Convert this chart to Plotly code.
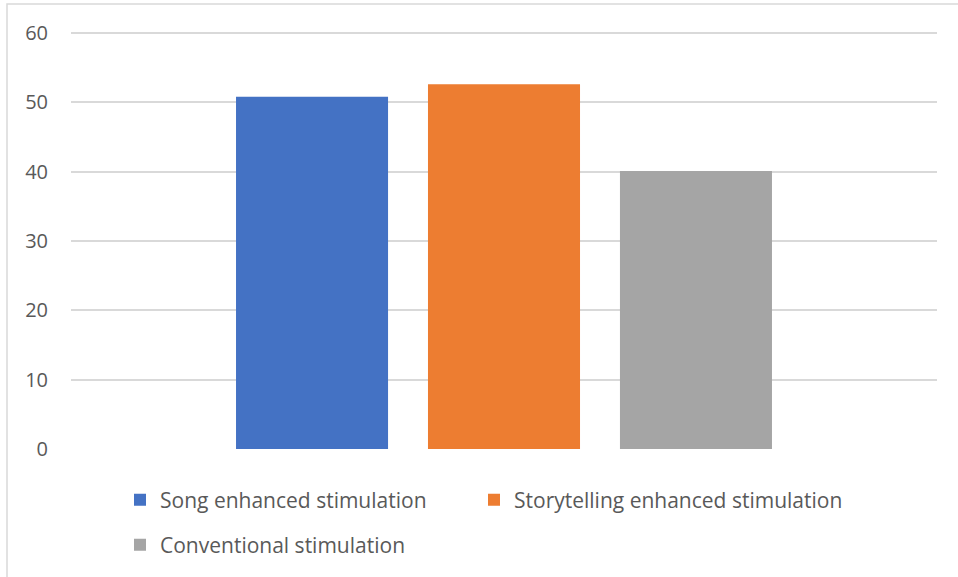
import plotly.graph_objects as go

categories = ["Stimulation"]
series_names = ["Song enhanced stimulation", "Storytelling enhanced stimulation", "Conventional stimulation"]
song_values = [50.8]
story_values = [52.6]
conventional_values = [40.1]
colors = ["#4472C4", "#ED7D31", "#A5A5A5"]
y_ticks = [0, 10, 20, 30, 40, 50, 60]

W, H = 958, 577
L, R, T, B = 71, 21, 26, 128
pw = W - L - R
ph = H - T - B

def px_x(x):
    return (x - L) / pw

def px_y(y):
    return (H - B - y) / ph

FONT = "Open Sans"
TXT = "#595959"

fig = go.Figure()
vals = [song_values, story_values, conventional_values]
legend_ids = ["legend", "legend2", "legend3"]
for name, v, c, lg in zip(series_names, vals, colors, legend_ids):
    fig.add_trace(go.Bar(x=categories, y=v, name=name, marker_color=c,
                         marker_line_width=0, legend=lg))

leg_common = dict(orientation="h", xanchor="left", yanchor="middle",
                  font=dict(family=FONT, size=21, color=TXT),
                  bgcolor="rgba(0,0,0,0)", borderwidth=0)

fig.update_layout(
    width=W, height=H,
    margin=dict(l=L, r=R, t=T, b=B),
    paper_bgcolor="white", plot_bgcolor="white",
    barmode="group", bargap=0.335, bargroupgap=0.208,
    showlegend=True,
    legend=dict(x=px_x(120), y=px_y(500), **leg_common),
    legend2=dict(x=px_x(474), y=px_y(500), **leg_common),
    legend3=dict(x=px_x(120), y=px_y(545), **leg_common),
    xaxis=dict(showticklabels=False, showgrid=False, zeroline=False,
               showline=False, ticks=""),
    yaxis=dict(range=[0, 61], tickvals=y_ticks, showgrid=True,
               gridcolor="#D9D9D9", gridwidth=1.5, zeroline=False,
               showline=False, ticks="", ticklabelstandoff=22,
               tickfont=dict(family=FONT, size=20, color=TXT)),
    shapes=[dict(type="rect", xref="paper", yref="paper",
                 x0=px_x(7), x1=px_x(975), y0=px_y(4), y1=px_y(590),
                 line=dict(color="#D9D9D9", width=1.5), fillcolor="rgba(0,0,0,0)",
                 layer="below")],
)

fig.write_html("out.html", config={"displayModeBar": False},
               post_script="document.body.style.margin='0';document.body.style.overflow='hidden';")
